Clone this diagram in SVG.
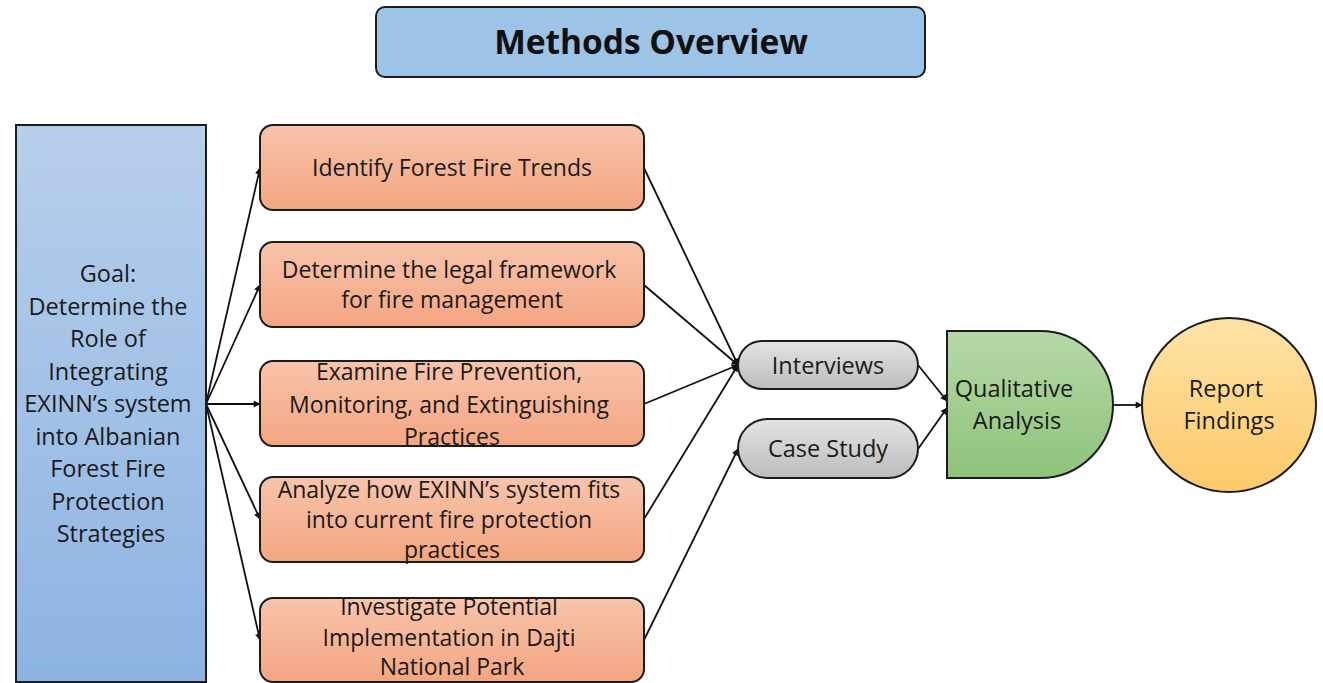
<svg xmlns="http://www.w3.org/2000/svg" width="1323" height="683" viewBox="0 0 1323 683">
  <style>
    .lbl { font-family: "Open Sans", "Liberation Sans", sans-serif; font-size: 23.5px; fill: #1a1a1a; text-anchor: middle; }
    .obj { font-size: 23px; }
    .title { font-family: "Open Sans", "Liberation Sans", sans-serif; font-size: 33.5px; font-weight: bold; fill: #111; text-anchor: middle; }
    .box { stroke: #1c1c1c; stroke-width: 2; }
    .edge { stroke: #111; stroke-width: 1.8; fill: none; marker-end: url(#arrow); }
  </style>
  <defs>
    <marker id="arrow" viewBox="0 0 10 10" refX="9" refY="5" markerWidth="8" markerHeight="7" markerUnits="userSpaceOnUse" orient="auto">
      <path d="M0,0 L10,5 L0,10 z" fill="#111"/>
    </marker>
    <linearGradient id="gBlue" x1="0" y1="0" x2="0" y2="1">
      <stop offset="0" stop-color="#b7cfeb"/>
      <stop offset="1" stop-color="#8db3e2"/>
    </linearGradient>
    <linearGradient id="gOrange" x1="0" y1="0" x2="0" y2="1">
      <stop offset="0" stop-color="#f8c4ab"/>
      <stop offset="1" stop-color="#f4a582"/>
    </linearGradient>
    <linearGradient id="gGray" x1="0" y1="0" x2="0" y2="1">
      <stop offset="0" stop-color="#e3e3e3"/>
      <stop offset="1" stop-color="#bcbcbc"/>
    </linearGradient>
    <linearGradient id="gGreen" x1="0" y1="0" x2="0" y2="1">
      <stop offset="0" stop-color="#b6d8a9"/>
      <stop offset="1" stop-color="#8ec379"/>
    </linearGradient>
    <linearGradient id="gYellow" x1="0" y1="0" x2="0" y2="1">
      <stop offset="0" stop-color="#ffe3a6"/>
      <stop offset="1" stop-color="#fcca6a"/>
    </linearGradient>
  </defs>

  <!-- heading -->
  <g id="title">
    <rect class="box" x="376" y="7" width="549" height="70" rx="9" fill="#9dc3e6"/>
    <text class="title" x="651" y="54">Methods Overview</text>
  </g>

  <!-- connectors -->
  <g id="connectors">
    <line class="edge" x1="206" y1="404" x2="260" y2="168"/>
    <line class="edge" x1="206" y1="404" x2="260" y2="285"/>
    <line class="edge" x1="206" y1="404" x2="260" y2="404"/>
    <line class="edge" x1="206" y1="404" x2="260" y2="519"/>
    <line class="edge" x1="206" y1="404" x2="260" y2="640"/>
    <line class="edge" x1="644" y1="168" x2="738" y2="365"/>
    <line class="edge" x1="644" y1="285" x2="738" y2="365"/>
    <line class="edge" x1="644" y1="404" x2="738" y2="365"/>
    <line class="edge" x1="644" y1="519" x2="738" y2="365"/>
    <line class="edge" x1="644" y1="640" x2="738" y2="449"/>
    <line class="edge" x1="918" y1="365" x2="947" y2="401"/>
    <line class="edge" x1="918" y1="449" x2="947" y2="408"/>
    <line class="edge" x1="1113" y1="405" x2="1142" y2="405"/>
  </g>

  <!-- goal -->
  <g id="goal">
    <rect class="box" x="16" y="125" width="190" height="557" fill="url(#gBlue)"/>
    <text class="lbl">
      <tspan x="111" y="282">Goal:</tspan>
      <tspan x="111" y="314.5">Determine the</tspan>
      <tspan x="111" y="347">Role of</tspan>
      <tspan x="111" y="379.5">Integrating</tspan>
      <tspan x="111" y="412">EXINN’s system</tspan>
      <tspan x="111" y="444.5">into Albanian</tspan>
      <tspan x="111" y="477">Forest Fire</tspan>
      <tspan x="111" y="509.5">Protection</tspan>
      <tspan x="111" y="542">Strategies</tspan>
    </text>
  </g>

  <!-- objectives -->
  <g id="trends">
    <rect class="box" x="260" y="125" width="384" height="85" rx="13" fill="url(#gOrange)"/>
    <text class="lbl obj" x="452" y="176">Identify Forest Fire Trends</text>
  </g>
  <g id="legal">
    <rect class="box" x="260" y="242" width="384" height="85" rx="13" fill="url(#gOrange)"/>
    <text class="lbl obj">
      <tspan x="452" y="278">Determine the legal framework</tspan>
      <tspan x="452" y="308">for fire management</tspan>
    </text>
  </g>
  <g id="practices">
    <rect class="box" x="260" y="361" width="384" height="85" rx="13" fill="url(#gOrange)"/>
    <text class="lbl obj">
      <tspan x="452" y="380">Examine Fire Prevention,</tspan>
      <tspan x="452" y="413">Monitoring, and Extinguishing</tspan>
      <tspan x="452" y="445">Practices</tspan>
    </text>
  </g>
  <g id="exinn">
    <rect class="box" x="260" y="477" width="384" height="85" rx="13" fill="url(#gOrange)"/>
    <text class="lbl obj">
      <tspan x="452" y="498">Analyze how EXINN’s system fits</tspan>
      <tspan x="452" y="528">into current fire protection</tspan>
      <tspan x="452" y="558">practices</tspan>
    </text>
  </g>
  <g id="dajti">
    <rect class="box" x="260" y="598" width="384" height="84" rx="13" fill="url(#gOrange)"/>
    <text class="lbl obj">
      <tspan x="452" y="615">Investigate Potential</tspan>
      <tspan x="452" y="646">Implementation in Dajti</tspan>
      <tspan x="452" y="675">National Park</tspan>
    </text>
  </g>

  <!-- data sources -->
  <g id="interviews">
    <rect class="box" x="738" y="341" width="180" height="48" rx="24" fill="url(#gGray)"/>
    <text class="lbl" x="828" y="374">Interviews</text>
  </g>
  <g id="casestudy">
    <rect class="box" x="738" y="419" width="180" height="59" rx="29.5" fill="url(#gGray)"/>
    <text class="lbl" x="828" y="457">Case Study</text>
  </g>

  <!-- analysis -->
  <g id="analysis">
    <path class="box" d="M947,331 L1040,331 A73,73.5 0 0 1 1040,478 L947,478 Z" fill="url(#gGreen)"/>
    <text class="lbl">
      <tspan x="1017" y="397">Qualitative</tspan>
      <tspan x="1017" y="429">Analysis</tspan>
    </text>
  </g>

  <!-- output -->
  <g id="report">
    <circle class="box" cx="1229" cy="405" r="87" fill="url(#gYellow)"/>
    <text class="lbl">
      <tspan x="1229" y="397">Report</tspan>
      <tspan x="1229" y="429">Findings</tspan>
    </text>
  </g>
</svg>
